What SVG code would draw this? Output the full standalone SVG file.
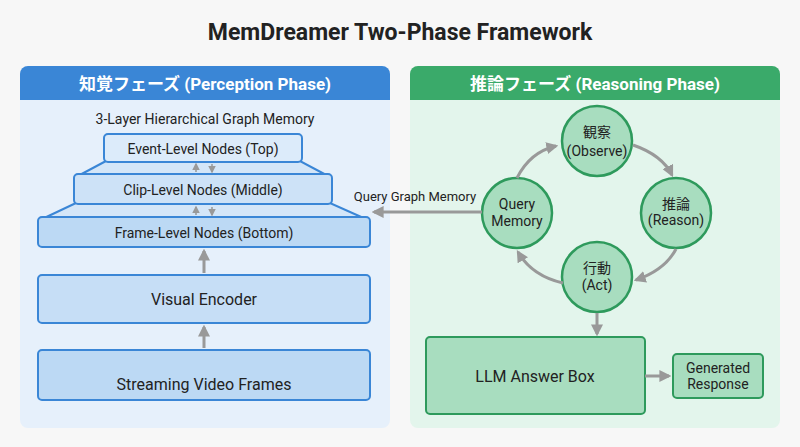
<svg xmlns="http://www.w3.org/2000/svg" width="800" height="447" viewBox="0 0 800 447">
<style>
text{font-family:Roboto,"Noto Sans CJK JP",sans-serif;fill:#222}
.bx{fill:#bcd9f4;stroke:#3a86d6;stroke-width:2}
.gx{fill:#a8ddbf;stroke:#2e9a5c;stroke-width:2}
.c{fill:#a8ddbf;stroke:#2e9a5c;stroke-width:2.5}
.ln{stroke:#999;stroke-width:3;fill:none}
.sl{stroke:#999;stroke-width:1.5;fill:none}
.tr{stroke:#3a86d6;stroke-width:2;fill:#d4e6f8}
</style>
<defs>
<marker id="a" viewBox="0 0 10 10" refX="8" refY="5" markerWidth="4" markerHeight="4" orient="auto"><path d="M0,0L10,5L0,10z" fill="#999"/></marker>
<marker id="s" viewBox="0 0 10 10" refX="8" refY="5" markerWidth="5" markerHeight="5" orient="auto"><path d="M0,0L10,5L0,10z" fill="#999"/></marker>
</defs>
<rect width="800" height="447" fill="#f7f7f7"/>
<text x="400" y="40" text-anchor="middle" font-size="23" font-weight="bold">MemDreamer Two-Phase Framework</text>
<g id="perception">
<rect x="20" y="66" width="370" height="362" rx="8" fill="#e6f0fb"/>
<path d="M20,100V74a8,8 0 0 1 8,-8H382a8,8 0 0 1 8,8V100z" fill="#3a86d6"/>
<text x="205" y="90" text-anchor="middle" font-size="17" font-weight="bold" style="fill:#fff">知覚フェーズ (Perception Phase)</text>
<text x="205" y="124" text-anchor="middle" font-size="14">3-Layer Hierarchical Graph Memory</text>
</g>
<g id="reasoning">
<rect x="410" y="66" width="370" height="362" rx="8" fill="#e3f5ec"/>
<path d="M410,100V74a8,8 0 0 1 8,-8H772a8,8 0 0 1 8,8V100z" fill="#3aaa6a"/>
<text x="595" y="90" text-anchor="middle" font-size="17" font-weight="bold" style="fill:#fff">推論フェーズ (Reasoning Phase)</text>
</g>
<g id="memory">
<path class="tr" d="M106,161L76,177H330L300,161z"/>
<path class="tr" d="M76,203L40,220H368L330,203z"/>
<rect id="event" class="bx" x="104" y="134" width="198" height="28" rx="4" style="fill:#dcebfa"/>
<text x="203" y="154" text-anchor="middle" font-size="14">Event-Level Nodes (Top)</text>
<rect id="clip" class="bx" x="74" y="174" width="258" height="30" rx="4" style="fill:#cde2f7"/>
<text x="203" y="195" text-anchor="middle" font-size="14">Clip-Level Nodes (Middle)</text>
<rect id="frame" class="bx" x="38" y="217" width="332" height="30" rx="4"/>
<text x="204" y="238" text-anchor="middle" font-size="14">Frame-Level Nodes (Bottom)</text>
</g>
<g id="encoder"><rect class="bx" x="38" y="275" width="332" height="48" rx="4" style="fill:#c6def6"/>
<text x="204" y="305" text-anchor="middle" font-size="16">Visual Encoder</text></g>
<g id="frames"><rect class="bx" x="38" y="350" width="332" height="50" rx="4"/>
<text x="204" y="390" text-anchor="middle" font-size="16">Streaming Video Frames</text></g>
<g id="observe"><circle class="c" cx="597" cy="141" r="35"/><text x="597" y="137" text-anchor="middle" font-size="14">観察</text><text x="597" y="156" text-anchor="middle" font-size="14">(Observe)</text></g>
<g id="reason"><circle class="c" cx="676" cy="213" r="35"/><text x="676" y="209" text-anchor="middle" font-size="14">推論</text><text x="676" y="225" text-anchor="middle" font-size="14">(Reason)</text></g>
<g id="act"><circle class="c" cx="597" cy="277" r="35"/><text x="597" y="273" text-anchor="middle" font-size="14">行動</text><text x="597" y="290" text-anchor="middle" font-size="14">(Act)</text></g>
<g id="query"><circle class="c" cx="517" cy="213" r="35"/><text x="517" y="209" text-anchor="middle" font-size="14">Query</text><text x="517" y="226" text-anchor="middle" font-size="14">Memory</text></g>
<g id="llm"><rect class="gx" x="426" y="337" width="219" height="77" rx="4"/><text x="535" y="382" text-anchor="middle" font-size="16">LLM Answer Box</text></g>
<g id="response"><rect class="gx" x="673" y="354" width="90" height="44" rx="4"/><text x="718" y="373" text-anchor="middle" font-size="14">Generated</text><text x="718" y="389" text-anchor="middle" font-size="14">Response</text></g>
<g id="connectors">
<path class="sl" d="M196,172V164" marker-end="url(#s)"/><path class="sl" d="M212,164V172" marker-end="url(#s)"/>
<path class="sl" d="M196,215V207" marker-end="url(#s)"/><path class="sl" d="M212,207V215" marker-end="url(#s)"/>
<path class="ln" d="M204,348V327" marker-end="url(#a)"/>
<path class="ln" d="M204,273V251" marker-end="url(#a)"/>
<path class="ln" d="M482,212H374" marker-end="url(#a)"/>
<text x="415" y="201" text-anchor="middle" font-size="13">Query Graph Memory</text>
<path class="ln" d="M517,178Q530,152 556,146" marker-end="url(#a)"/>
<path class="ln" d="M633,145Q662,155 672,175" marker-end="url(#a)"/>
<path class="ln" d="M676,249Q665,270 636,280" marker-end="url(#a)"/>
<path class="ln" d="M563,283Q532,276 518,252" marker-end="url(#a)"/>
<path class="ln" d="M597,313V334" marker-end="url(#a)"/>
<path class="ln" d="M645,376H669" marker-end="url(#a)"/>
</g>
</svg>
